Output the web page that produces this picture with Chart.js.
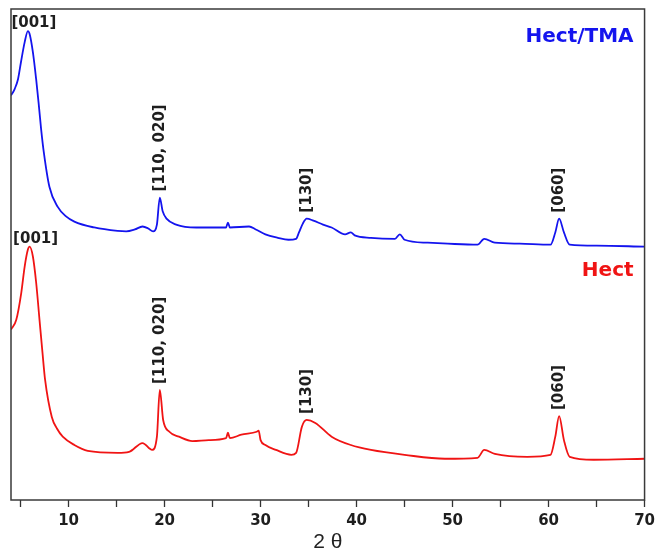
<!DOCTYPE html>
<html>
<head>
<meta charset="utf-8">
<script src="https://cdn.jsdelivr.net/npm/chart.js@4.4.1/dist/chart.umd.min.js"></script>
<style>
  html, body { margin: 0; padding: 0; background: #ffffff; }
  #wrap { width: 660px; height: 553px; }
</style>
</head>
<body>
<div id="wrap"><canvas id="xrdChart" width="660" height="553"></canvas></div>
<script>
// Hect/TMA (curva azul, desplazada hacia arriba)
const tmaAngles = [4.0, 4.38, 4.73, 5.04, 5.42, 5.76, 5.94, 6.28, 6.62, 6.87, 7.14, 7.42, 8.0, 8.87, 9.7, 10.6, 12.67, 15.1, 16.0, 16.9, 17.7, 18.3, 18.8, 19.2, 19.5, 19.8, 20.2, 21.2, 23.3, 26.4, 26.6, 26.8, 28.8, 29.5, 30.5, 31.8, 32.9, 33.7, 34.0, 34.4, 34.8, 35.5, 36.5, 37.4, 38.8, 39.4, 39.8, 41.5, 44.0, 44.5, 45.0, 47.4, 49.5, 52.6, 53.3, 54.4, 57.0, 60.2, 60.7, 61.1, 61.6, 62.2, 65.0, 70.0];
const tmaCounts = [824, 837, 857, 892, 932, 955, 949, 912, 857, 810, 755, 708, 638, 597, 578, 567, 555, 548, 547, 551, 557, 553, 547, 561, 616, 588, 573, 561, 555, 555, 565, 555, 557, 551, 541, 534, 530, 532, 545, 563, 573, 569, 561, 555, 541, 545, 539, 534, 532, 541, 530, 524, 522, 520, 532, 524, 522, 520, 545, 573, 545, 520, 518, 516];

// Hect (curva roja)
const hectAngles = [4.0, 4.55, 5.07, 5.42, 5.76, 5.94, 6.28, 6.62, 6.97, 7.28, 7.55, 8.25, 8.8, 9.39, 10.6, 12.0, 15.1, 16.3, 17.7, 18.7, 19.2, 19.5, 19.85, 20.5, 21.5, 22.9, 24.6, 26.4, 26.6, 26.8, 28.0, 29.6, 29.8, 30.0, 30.5, 31.6, 33.2, 33.7, 34.3, 34.8, 35.7, 37.4, 39.4, 41.5, 45.0, 49.2, 52.6, 53.3, 54.4, 57.8, 60.2, 60.7, 61.1, 61.6, 62.2, 64.7, 70.0];
const hectCounts = [347, 367, 422, 475, 510, 516, 496, 443, 367, 300, 245, 169, 145, 129, 112, 100, 96, 98, 116, 102, 129, 224, 163, 139, 129, 120, 122, 126, 137, 126, 133, 139, 141, 122, 112, 102, 92, 96, 149, 163, 157, 129, 112, 102, 92, 84, 86, 102, 94, 88, 92, 129, 171, 122, 88, 82, 84];

// Reflexiones indexadas
const peakAngles = [19.5, 34.8, 61.1];
const peakNames = ['[110, 020]', '[130]', '[060]'];
const basalAngles = [5.76, 5.94];

const blue = '#1414ee';
const red = '#f01414';

const toPoints = (xs, ys) => xs.map((x, i) => ({ x: x, y: ys[i] }));

// valor de la curva en el ángulo más cercano
function valueAt(xs, ys, angle) {
    let best = 0;
    xs.forEach((x, i) => { if (Math.abs(x - angle) < Math.abs(xs[best] - angle)) best = i; });
    return ys[best];
}

const labelsPlugin = {
    id: 'peakLabels',
    afterDatasetsDraw: (chart) => {
        const { ctx, chartArea } = chart;
        const xs = chart.scales.x;
        const ys = chart.scales.y;
        ctx.save();

        // marco
        ctx.strokeStyle = '#3a3a3a';
        ctx.lineWidth = 1.5;
        ctx.strokeRect(chartArea.left, chartArea.top, chartArea.right - chartArea.left, chartArea.bottom - chartArea.top);

        ctx.fillStyle = '#1e1e1e';
        ctx.font = "bold 15px 'DejaVu Sans'";

        // [001] horizontales
        const series = [[tmaAngles, tmaCounts], [hectAngles, hectCounts]];
        series.forEach((s, k) => {
            const px = xs.getPixelForValue(basalAngles[k]);
            const py = ys.getPixelForValue(valueAt(s[0], s[1], basalAngles[k]));
            ctx.textAlign = 'center';
            ctx.textBaseline = 'alphabetic';
            ctx.fillText('[001]', px + 6, py - 4);
        });

        // etiquetas verticales
        series.forEach((s) => {
            peakAngles.forEach((a, i) => {
                const px = xs.getPixelForValue(a);
                const py = ys.getPixelForValue(valueAt(s[0], s[1], a));
                ctx.save();
                ctx.translate(px, py - 6);
                ctx.rotate(-Math.PI / 2);
                ctx.textAlign = 'left';
                ctx.textBaseline = 'middle';
                ctx.fillText(peakNames[i], 0, 0);
                ctx.restore();
            });
        });

        // nombres de las muestras
        ctx.font = "bold 20px 'DejaVu Sans'";
        ctx.textAlign = 'right';
        ctx.textBaseline = 'middle';
        ctx.fillStyle = blue;
        ctx.fillText('Hect/TMA', chartArea.right - 11, chartArea.top + 28);
        ctx.fillStyle = red;
        ctx.fillText('Hect', chartArea.right - 11, chartArea.top + 262);
        ctx.restore();
    }
};

new Chart(document.getElementById('xrdChart'), {
    type: 'line',
    data: {
        datasets: [
            {
                label: 'Hect/TMA',
                data: toPoints(tmaAngles, tmaCounts),
                borderColor: blue,
                borderWidth: 1.8,
                pointRadius: 0,
                cubicInterpolationMode: 'monotone'
            },
            {
                label: 'Hect',
                data: toPoints(hectAngles, hectCounts),
                borderColor: red,
                borderWidth: 1.8,
                pointRadius: 0,
                cubicInterpolationMode: 'monotone'
            }
        ]
    },
    options: {
        responsive: false,
        animation: false,
        layout: { padding: { left: 11, right: 12, top: 9, bottom: 0 } },
        plugins: {
            legend: { display: false },
            tooltip: { enabled: false }
        },
        scales: {
            x: {
                type: 'linear',
                min: 4,
                max: 70,
                afterFit: (scale) => { scale.height = 53; },
                grid: {
                    drawOnChartArea: false,
                    tickLength: 7,
                    tickColor: '#333333',
                    tickWidth: 1.3
                },
                border: { display: false },
                ticks: {
                    stepSize: 5,
                    includeBounds: false,
                    autoSkip: false,
                    maxRotation: 0,
                    padding: 5,
                    color: '#1e1e1e',
                    font: { family: 'DejaVu Sans', size: 15, weight: 'bold' },
                    callback: (v) => (v % 10 === 0 ? v : '')
                },
                title: {
                    display: true,
                    text: '2 θ',
                    color: '#222222',
                    padding: { top: 0, bottom: 0 },
                    font: { family: 'Liberation Sans', size: 21, lineHeight: 1 }
                }
            },
            y: {
                display: false,
                min: 0,
                max: 1000
            }
        }
    },
    plugins: [labelsPlugin]
});
</script>
</body>
</html>
